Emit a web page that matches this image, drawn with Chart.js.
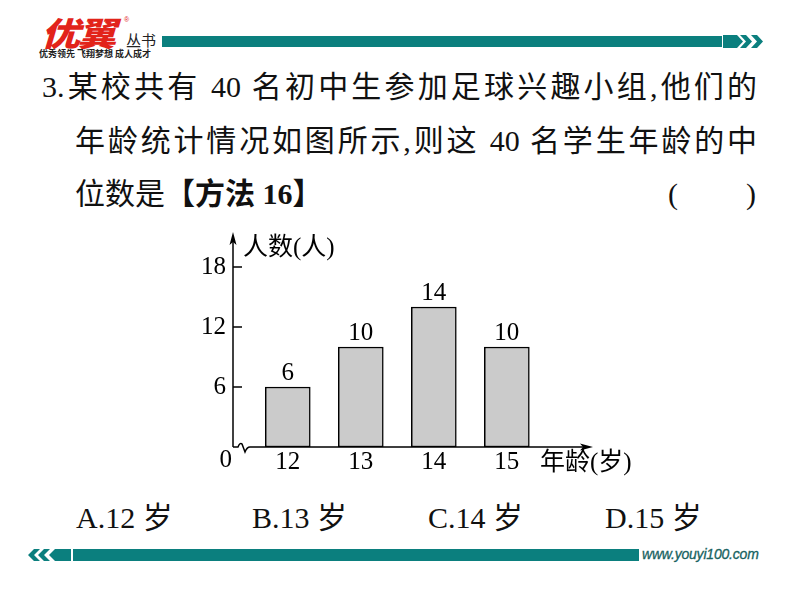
<!DOCTYPE html>
<html lang="zh-CN">
<head>
<meta charset="utf-8">
<script src="https://cdn.jsdelivr.net/npm/chart.js@4.4.1/dist/chart.umd.min.js"></script>
<style>
  html, body { margin: 0; padding: 0; background: #fff; }
  body { width: 794px; height: 596px; position: relative; overflow: hidden; }
  .abs { position: absolute; white-space: nowrap; }
  .q { font-family: "Liberation Serif", "Noto Sans CJK SC", serif; font-size: 30px; line-height: 30px; color: #111; }
  .cjk { font-family: "Noto Sans CJK SC", sans-serif; }
  .teal { background: #0b7f7e; }
  #chartBox { position: absolute; left: 190px; top: 220px; width: 460px; height: 260px; }
</style>
</head>
<body>
<!-- header -->
<div class="abs cjk" style="left:41px;top:12px;font-size:33px;font-weight:900;color:#e2231a;font-style:italic;transform:scaleX(1.18);transform-origin:left top;letter-spacing:-2px;line-height:40px;">优翼</div>
<div class="abs" style="left:124px;top:16px;font-size:7px;color:#e2231a;font-family:'Liberation Sans';">®</div>
<div class="abs cjk" style="left:126px;top:30px;font-size:15px;line-height:20px;color:#222;">丛书</div>
<div class="abs cjk" style="left:39px;top:48px;font-size:9px;line-height:12px;font-weight:700;color:#222;">优秀领先 飞翔梦想 成人成才</div>
<div class="abs teal" style="left:162px;top:36px;width:560px;height:11px;"></div>
<svg class="abs" style="left:723px;top:35px;" width="46" height="13" viewBox="0 0 46 13">
  <polygon points="0,0 14,0 20,6.5 14,13 0,13" fill="#0b7f7e"/>
  <polygon points="17,0 23,0 29,6.5 23,13 17,13 23,6.5" fill="#0b7f7e"/>
  <polygon points="28,0 34,0 40,6.5 34,13 28,13 34,6.5" fill="#0b7f7e"/>
</svg>

<!-- question -->
<div class="abs q" style="left:42px;top:72px;width:715px;text-align:justify;text-align-last:justify;">3.某校共有 40 名初中生参加足球兴趣小组,他们的</div>
<div class="abs q" style="left:75px;top:126px;width:682px;text-align:justify;text-align-last:justify;">年龄统计情况如图所示,则这 40 名学生年龄的中</div>
<div class="abs q" style="left:75px;top:179px;">位数是<b>【方法 16】</b></div>
<div class="abs q" style="left:668px;top:179px;">(</div>
<div class="abs q" style="left:746px;top:179px;">)</div>

<!-- chart -->
<div id="chartBox"><canvas id="c" width="460" height="260"></canvas></div>

<!-- options -->
<div class="abs q" style="left:76px;top:503px;">A.12 岁</div>
<div class="abs q" style="left:252px;top:503px;">B.13 岁</div>
<div class="abs q" style="left:428px;top:503px;">C.14 岁</div>
<div class="abs q" style="left:605px;top:503px;">D.15 岁</div>

<!-- footer -->
<svg class="abs" style="left:28px;top:549px;" width="44" height="12" viewBox="0 0 44 12">
  <polygon points="12,0 6,0 0,6 6,12 12,12 6,6" fill="#0b7f7e"/>
  <polygon points="22,0 16,0 10,6 16,12 22,12 16,6" fill="#0b7f7e"/>
  <polygon points="43,0 27,0 21,6 27,12 43,12" fill="#0b7f7e"/>
</svg>
<div class="abs teal" style="left:73px;top:549px;width:566px;height:12px;"></div>
<div class="abs" style="left:642px;top:545px;font-family:'Liberation Sans',Arial,sans-serif;font-style:italic;font-size:14px;line-height:18px;color:#17625f;letter-spacing:-0.2px;-webkit-text-stroke:0.3px #17625f;">www.youyi100.com</div>

<script>
// ---- data ----
const ages = [12, 13, 14, 15];          // 年龄(岁)
const counts = [6, 10, 14, 10];         // 人数(人)
const yTickValues = [6, 12, 18];
const xTitle = '年龄(岁)';
const yTitle = '人数(人)';

const NUM_FONT = '25px "Liberation Serif", "Times New Roman", serif';
const TITLE_FONT = '25px "Liberation Serif", "Noto Sans CJK SC", serif';

const axesPlugin = {
  id: 'axesPlugin',
  afterDatasetsDraw(chart) {
    const { ctx, chartArea, scales: { x, y } } = chart;
    const L = chartArea.left, R = chartArea.right, T = chartArea.top;
    const B = y.getPixelForValue(0);
    ctx.save();
    ctx.strokeStyle = '#000';
    ctx.fillStyle = '#000';
    ctx.lineWidth = 1.5;
    // y axis with arrow
    const tipY = T - 15;
    ctx.beginPath(); ctx.moveTo(L, B); ctx.lineTo(L, tipY + 8); ctx.stroke();
    ctx.beginPath(); ctx.moveTo(L, tipY); ctx.lineTo(L - 3.5, tipY + 13); ctx.lineTo(L, tipY + 10); ctx.lineTo(L + 3.5, tipY + 13); ctx.closePath(); ctx.fill();
    // x axis with break mark and arrow
    ctx.beginPath();
    ctx.moveTo(L, B); ctx.lineTo(L + 5, B);
    ctx.quadraticCurveTo(L + 7, B - 5, L + 9, B - 3);
    ctx.lineTo(L + 12, B + 5);
    ctx.quadraticCurveTo(L + 14, B, L + 17, B);
    ctx.lineTo(R - 8, B);
    ctx.stroke();
    ctx.beginPath(); ctx.moveTo(R, B); ctx.lineTo(R - 13, B - 3.5); ctx.lineTo(R - 10, B); ctx.lineTo(R - 13, B + 3.5); ctx.closePath(); ctx.fill();
    // y tick marks inside
    y.ticks.forEach(t => {
      const yy = y.getPixelForValue(t.value);
      ctx.beginPath(); ctx.moveTo(L, yy); ctx.lineTo(L + 9, yy); ctx.stroke();
    });
    // origin label
    ctx.font = NUM_FONT;
    ctx.textAlign = 'right'; ctx.textBaseline = 'middle';
    ctx.fillText('0', L - 1, B + 13);
    // axis titles
    ctx.font = TITLE_FONT;
    ctx.textAlign = 'left'; ctx.textBaseline = 'middle';
    ctx.fillText(yTitle, L + 10, T + 1);
    ctx.fillText(xTitle, R - 53, B + 16);
    // bar value labels
    const meta = chart.getDatasetMeta(0);
    ctx.font = NUM_FONT;
    ctx.textAlign = 'center'; ctx.textBaseline = 'alphabetic';
    meta.data.forEach((bar, i) => {
      ctx.fillText(String(chart.data.datasets[0].data[i].y), bar.x, bar.y - 7);
    });
    ctx.restore();
  }
};

new Chart(document.getElementById('c'), {
  type: 'bar',
  data: {
    datasets: [{
      data: ages.map((a, i) => ({ x: a, y: counts[i] })),
      backgroundColor: '#cbcbcb',
      borderColor: '#000',
      borderWidth: 1.5,
      borderSkipped: false,
      barThickness: 45
    }]
  },
  options: {
    responsive: false,
    animation: false,
    devicePixelRatio: 1,
    layout: { padding: { top: 27, right: 57, left: 0, bottom: 0 } },
    plugins: { legend: { display: false }, tooltip: { enabled: false }, title: { display: false } },
    scales: {
      x: {
        type: 'linear',
        offset: false,
        min: 11.25,
        max: 16.18,
        grid: { display: false, drawTicks: false, offset: false },
        border: { display: false },
        afterBuildTicks(scale) { scale.ticks = ages.map(v => ({ value: v })); },
        afterFit(scale) { scale.height = 33; },
        ticks: { font: { family: '"Liberation Serif", serif', size: 25 }, color: '#000', padding: 0, maxRotation: 0, autoSkip: false }
      },
      y: {
        min: 0,
        max: 20,
        grid: { display: false, drawTicks: false },
        border: { display: false },
        afterBuildTicks(scale) { scale.ticks = yTickValues.map(v => ({ value: v })); },
        afterFit(scale) { scale.width = 43; },
        ticks: { font: { family: '"Liberation Serif", serif', size: 25 }, color: '#000', padding: 7 }
      }
    }
  },
  plugins: [axesPlugin]
});
</script>
</body>
</html>
